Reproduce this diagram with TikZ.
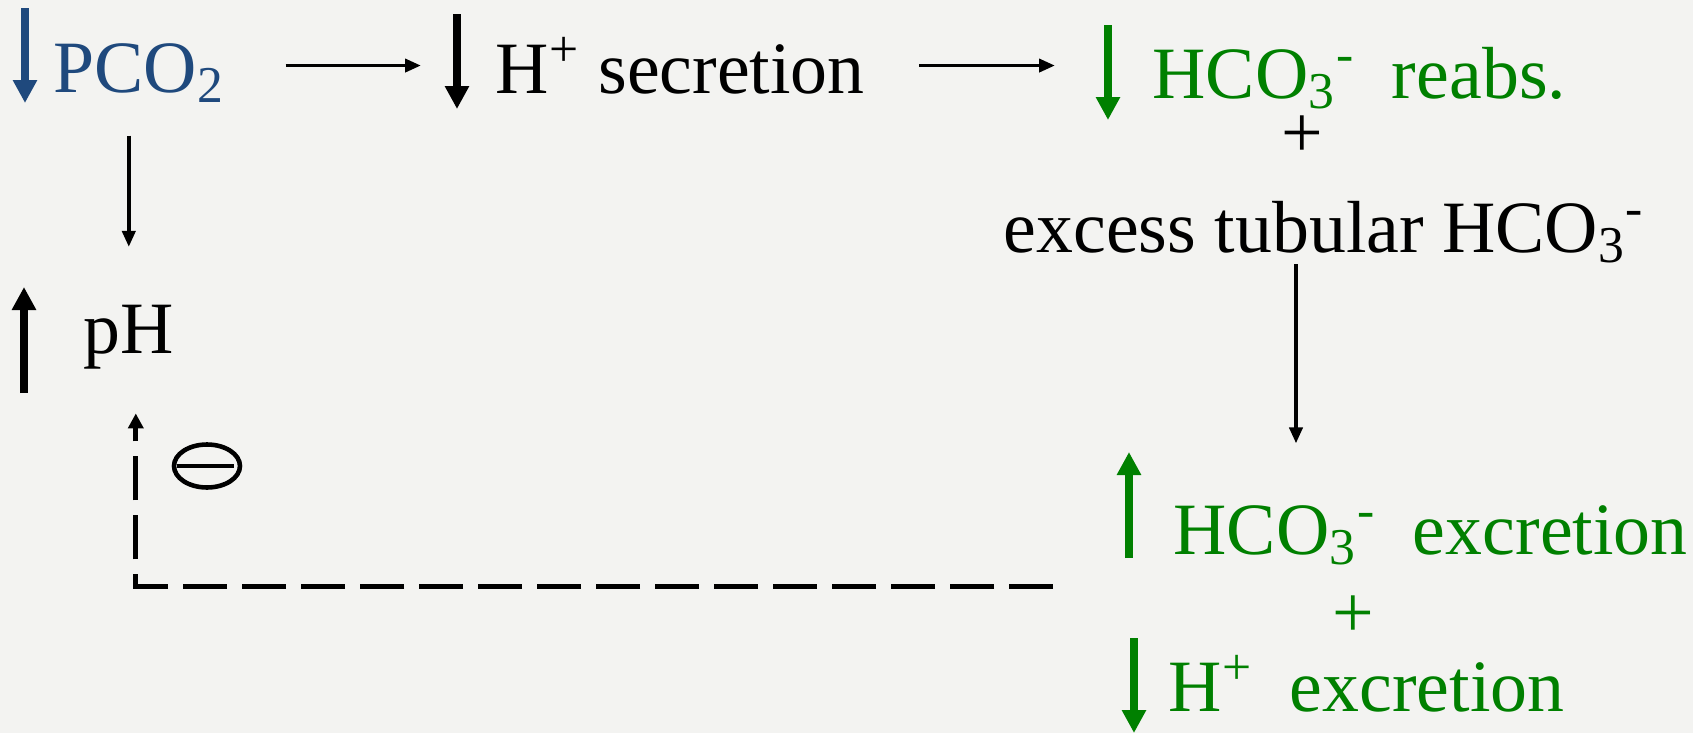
\documentclass[tikz,border=0pt]{standalone}
\usepackage{fontspec}
\setmainfont{Liberation Serif}
\usetikzlibrary{arrows.meta,shapes.geometric}
\definecolor{slideblue}{RGB}{31,73,125}
\definecolor{slidegreen}{RGB}{0,128,0}
\definecolor{slidebg}{RGB}{243,243,241}

\begin{document}
\begin{tikzpicture}[
    txt/.style={anchor=base west, inner sep=0pt, font=\fontsize{21}{25}\selectfont},
    flow/.style={-{Triangle[length=1.6mm,width=1.3mm]}, line width=1.1pt},
    level/.style={-{Triangle[length=2.3mm,width=2.3mm]}, line width=2.1pt},
    feedback/.style={-{Triangle[length=1.5mm,width=1.5mm]}, line width=1.4pt, dash pattern=on 4.4mm off 1.5mm}]
    \fill[slidebg] (0,0) rectangle (16.93,-7.33);
    \useasboundingbox (0,0) rectangle (16.93,-7.33);

    \node[txt, text=slideblue] (pco2) at (0.53,-0.92) {PCO\textsubscript{2}};
    \node[txt] (hsec) at (4.95,-0.93) {H\textsuperscript{+} secretion};
    \node[txt, text=slidegreen] (reabs) at (11.52,-0.98) {HCO\textsubscript{3}\textsuperscript{-}\ \ reabs.};
    \node[txt, anchor=center] (plusa) at (13.02,-1.37) {+};
    \node[txt] (excess) at (10.03,-2.52) {excess tubular HCO\textsubscript{3}\textsuperscript{-}};
    \node[txt] (ph) at (0.83,-3.53) {pH};
    \node[txt, text=slidegreen] (hco3exc) at (11.73,-5.54) {HCO\textsubscript{3}\textsuperscript{-}\ \ excretion};
    \node[txt, anchor=center, text=slidegreen] (plusb) at (13.53,-6.17) {+};
    \node[txt, text=slidegreen] (hexc) at (11.68,-7.11) {H\textsuperscript{+}\ \ excretion};
    \node[ellipse, draw, line width=1.3pt, minimum width=6.6mm, minimum height=4.3mm, inner sep=0pt] (inhib) at (2.07,-4.66) {};

    % up / down markers
    \draw[level, slideblue] (0.25,-0.08) -- (0.25,-1.03);
    \draw[level] (4.57,-0.14) -- (4.57,-1.09);
    \draw[level, slidegreen] (11.08,-0.25) -- (11.08,-1.20);
    \draw[level] (0.24,-3.93) -- (0.24,-2.87);
    \draw[level, slidegreen] (11.29,-5.58) -- (11.29,-4.52);
    \draw[level, slidegreen] (11.34,-6.38) -- (11.34,-7.33);

    \draw[flow] ([xshift=6mm]pco2.east |- hsec.west) -- ([xshift=-7.4mm]hsec.west);
    \draw[flow] ([xshift=5.4mm]hsec.east) -- ([xshift=-9.7mm]reabs.west |- hsec.east);
    \draw[flow] ([yshift=-3.2mm]pco2.south -| ph.north) -- ([yshift=5.7mm]ph.north);
    \draw[flow] ([xshift=-0.6mm]excess.south -| plusa) -- ([xshift=-0.6mm,yshift=6.1mm]hco3exc.north -| plusa);
    \draw[feedback] ([xshift=-12mm,yshift=-5.1mm]hco3exc.west) -| ([xshift=0.7mm,yshift=-4.4mm]ph.south);
    \draw[line width=1.4pt] ([xshift=0.5mm]inhib.west) -- ([xshift=-0.8mm]inhib.east);
\end{tikzpicture}
\end{document}
